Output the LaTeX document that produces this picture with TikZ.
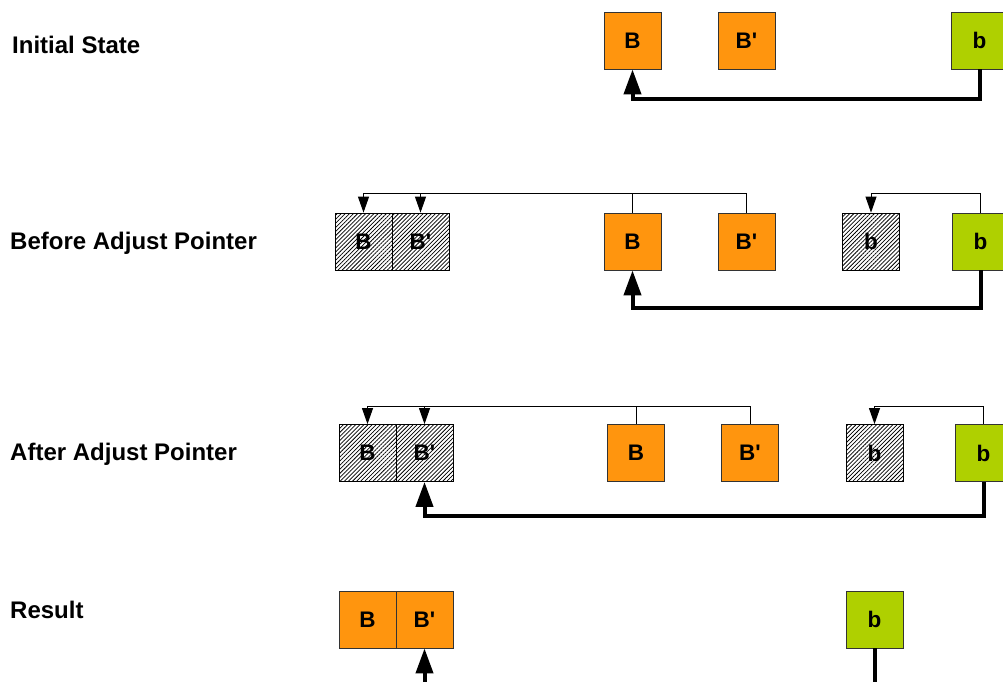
\documentclass[tikz,border=0pt]{standalone}
\usepackage{fontspec}
\setmainfont{Liberation Sans}
\usetikzlibrary{arrows.meta,patterns.meta}
\definecolor{borange}{HTML}{FF950E}
\definecolor{bgreen}{HTML}{AFD000}
\newcommand{\prm}{\textquotesingle}
\begin{document}
\begin{tikzpicture}[x=1pt,y=-1pt,
  box/.style={draw=black!80,line width=0.8pt,minimum width=57pt,minimum height=57pt,inner sep=0pt,
    font=\fontsize{22.5}{25}\selectfont\bfseries},
  obox/.style={box,fill=borange},
  gbox/.style={box,fill=bgreen},
  hbox/.style={box,draw=black,fill=white,pattern={Lines[angle=45,distance=2.9pt,line width=0.75pt]}},
  rowlabel/.style={anchor=base west,inner sep=0pt,font=\fontsize{24}{28}\selectfont\bfseries},
  thinptr/.style={draw=black,line width=1pt,-{Triangle[length=16pt,width=11pt]}},
  thickptr/.style={draw=black,line width=4pt,-{Triangle[length=25pt,width=17pt]}},
  thickline/.style={draw=black,line width=4pt}]
\useasboundingbox (0,0) rectangle (1003,682);

% labels
\node[rowlabel] (l1) at (12,54) {Initial State};
\node[rowlabel] (l2) at (10,249) {Before Adjust Pointer};
\node[rowlabel] (l3) at (10,460) {After Adjust Pointer};
\node[rowlabel] (l4) at (10,618) {Result};

% row 1
\node[obox] (B1) at (632.5,40.5) {B};
\node[obox] (Bp1) at (746.5,40.5) {B\prm};
\node[gbox] (gb1) at (979.5,40.5) {b};
\draw[thickptr] (gb1.south) -- ++(0,30) -| (B1.south);

% row 2
\node[hbox] (hB2) at (363.5,241.5) {B};
\node[hbox] (hBp2) at (420.5,241.5) {B\prm};
\node[obox] (B2) at (632.5,241.5) {B};
\node[obox] (Bp2) at (746.5,241.5) {B\prm};
\node[hbox] (hb2) at (871,241.5) {b};
\node[gbox] (gb2) at (980.5,241.5) {b};
\draw[thinptr] (B2.north) -- ++(0,-19) -| (hB2.north);
\draw[thinptr] (Bp2.north) -- ++(0,-19) -| (hBp2.north);
\draw[thinptr] (gb2.north) -- ++(0,-19) -| (hb2.north);
\draw[thickptr] (gb2.south) -- ++(0,38) -| (B2.south);

% row 3
\node[hbox] (hB3) at (367.5,453) {B};
\node[hbox] (hBp3) at (424.5,453) {B\prm};
\node[obox] (B3) at (636,453) {B};
\node[obox] (Bp3) at (750,453) {B\prm};
\node[hbox] (hb3) at (874.5,453) {b};
\node[gbox] (gb3) at (983.5,453) {b};
\draw[thinptr] (B3.north) -- ++(0,-18) -| (hB3.north);
\draw[thinptr] (Bp3.north) -- ++(0,-18) -| (hBp3.north);
\draw[thinptr] (gb3.north) -- ++(0,-18) -| (hb3.north);
\draw[thickptr] (gb3.south) -- ++(0,34) -| (hBp3.south);

% row 4
\node[obox] (B4) at (367.5,619.5) {B};
\node[obox] (Bp4) at (424.5,619.5) {B\prm};
\node[gbox] (gb4) at (874.5,619.5) {b};
\coordinate (e1) at (424.5,690);
\coordinate (e2) at (874.5,690);
\draw[thickptr] (e1) -- (Bp4.south);
\draw[thickline] (gb4.south) -- (e2);
\end{tikzpicture}
\end{document}
